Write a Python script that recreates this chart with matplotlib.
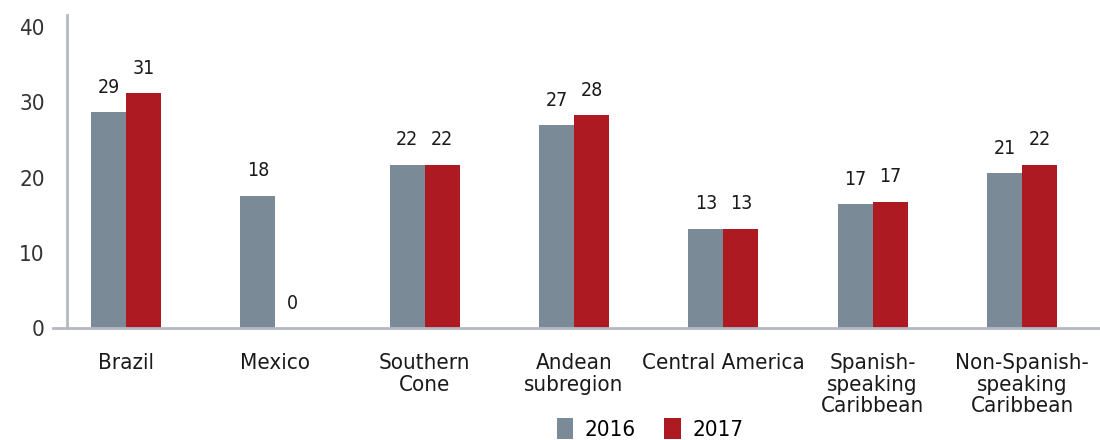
import matplotlib
matplotlib.use("Agg")
import matplotlib.pyplot as plt
from matplotlib import font_manager
import numpy as np

# condensed face if one is around, else plain Liberation Sans (narrower than DejaVu)
cond = [f for f in font_manager.fontManager.ttflist
        if f.stretch in ("condensed", "semi-condensed", "extra-condensed")]
if any(f.name == "DejaVu Sans" for f in cond):
    plt.rcParams['font.family'] = ['DejaVu Sans']
    plt.rcParams['font.stretch'] = 'condensed'
else:
    plt.rcParams['font.family'] = ['Liberation Sans', 'DejaVu Sans']

# data
regions = ["Brazil", "Mexico", "Southern\nCone", "Andean\nsubregion", "Central America",
           "Spanish-\nspeaking\nCaribbean", "Non-Spanish-\nspeaking\nCaribbean"]
v2016 = [28.7, 17.6, 21.7, 27.0, 13.2, 16.5, 20.6]
v2017 = [31.2, 0.0, 21.7, 28.3, 13.2, 16.8, 21.7]
lab2016 = ["29", "18", "22", "27", "13", "17", "21"]
lab2017 = ["31", "0", "22", "28", "13", "17", "22"]

c16 = "#7a8b97"
c17 = "#ad1a21"
axc = "#b5b9c2"

fig = plt.figure(figsize=(11, 4.4), dpi=100)
ax = fig.add_axes([53/1100, 1-328/440, 1-53/1100, 313/440])

x = np.arange(len(regions))
w = 0.234
b1 = ax.bar(x - w/2, v2016, w, color=c16, label="2016")
b2 = ax.bar(x + w/2, v2017, w, color=c17, label="2017")

for bars, labs in ((b1, lab2016), (b2, lab2017)):
    for b, t in zip(bars, labs):
        ax.annotate(t, (b.get_x() + b.get_width()/2, b.get_height()),
                    xytext=(0, 11), textcoords="offset points",
                    ha="center", va="bottom", fontsize=14, color="#1a1a1a")

ax.set_xlim(-0.489, 6.522)
ax.set_ylim(0, 41.6)
ax.set_yticks([0, 10, 20, 30, 40])
ax.set_xticks(x)
ax.set_xticklabels(regions, fontsize=16, va="top", linespacing=1.1, color="#1a1a1a")
ax.tick_params(axis="x", length=0, pad=18)
ax.tick_params(axis="y", length=0, pad=16, labelsize=16, labelcolor="#333333")

for s in ("top", "right"):
    ax.spines[s].set_visible(False)
ax.spines["left"].set_position(("data", -0.395))
ax.spines["left"].set_color(axc)
ax.spines["left"].set_linewidth(2)
ax.spines["bottom"].set_color(axc)
ax.spines["bottom"].set_linewidth(2)

fig.legend(handles=[b1, b2], loc="center", bbox_to_anchor=(650/1100, 1-429/440),
           ncol=2, frameon=False, fontsize=16, handlelength=0.75, handleheight=1.1,
           handletextpad=0.5, columnspacing=1.3)

fig.savefig("out.png", dpi=100)
